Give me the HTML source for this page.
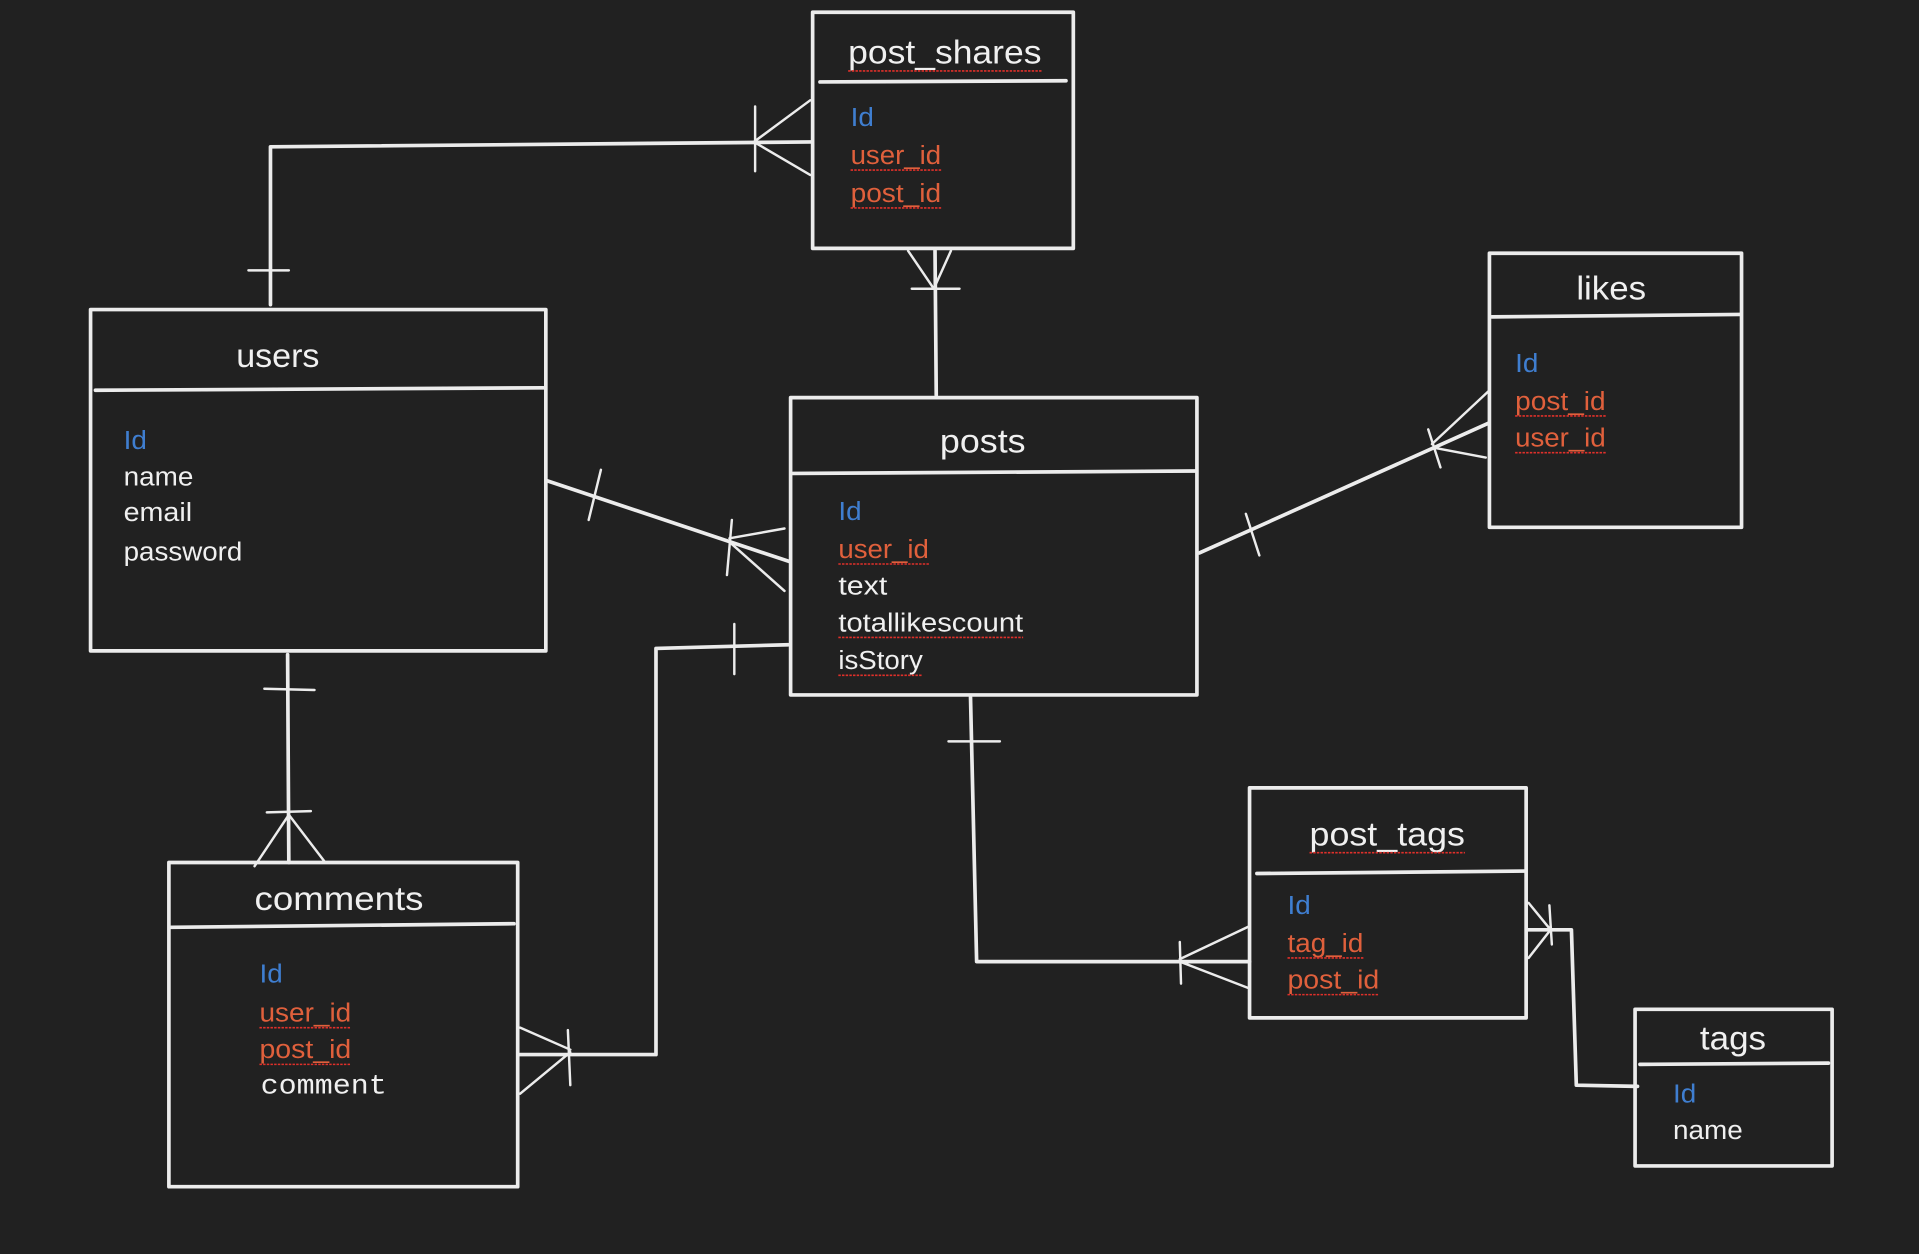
<!DOCTYPE html>
<html><head><meta charset="utf-8"><style>
html,body{margin:0;padding:0;background:#212121;}
svg{display:block;}
text{font-family:"Liberation Sans",sans-serif;}
.t{fill:#f0f0f0;font-size:27px;}
.f{fill:#f0f0f0;font-size:21px;}
.b{fill:#3f7ed0;font-size:21px;}
.r{fill:#e0603c;font-size:21px;}
.m{fill:#f0f0f0;font-size:23px;font-family:"Liberation Mono",monospace;}
.s{stroke:#ececec;stroke-width:3;fill:none;stroke-linecap:round;stroke-linejoin:round;}
.th{stroke:#ececec;stroke-width:2;fill:none;stroke-linecap:round;}
.u{stroke:#e0302a;stroke-width:1.3;fill:none;stroke-dasharray:2 1;}
</style></head><body>
<svg width="1919" height="1254" viewBox="0 0 1568 1025" preserveAspectRatio="none" xmlns="http://www.w3.org/2000/svg">
<rect width="1568" height="1025" fill="#212121"/>

<!-- post_shares -->
<rect class="s" x="664" y="10" width="213" height="193"/>
<line class="s" x1="670" y1="67" x2="871" y2="66"/>
<text class="t" x="693" y="52" textLength="158" lengthAdjust="spacingAndGlyphs">post_shares</text>
<line class="u" x1="693" y1="58" x2="851" y2="58"/>
<text class="b" x="695" y="103" textLength="19" lengthAdjust="spacingAndGlyphs">Id</text>
<text class="r" x="695" y="134" textLength="74" lengthAdjust="spacingAndGlyphs">user_id</text>
<line class="u" x1="695" y1="139" x2="769" y2="139"/>
<text class="r" x="695" y="165" textLength="74" lengthAdjust="spacingAndGlyphs">post_id</text>
<line class="u" x1="695" y1="170" x2="769" y2="170"/>

<!-- users -->
<rect class="s" x="74" y="253" width="372" height="279"/>
<line class="s" x1="78" y1="319" x2="444" y2="317"/>
<text class="t" x="193" y="300" textLength="68" lengthAdjust="spacingAndGlyphs">users</text>
<text class="b" x="101" y="367" textLength="19" lengthAdjust="spacingAndGlyphs">Id</text>
<text class="f" x="101" y="397" textLength="57" lengthAdjust="spacingAndGlyphs">name</text>
<text class="f" x="101" y="426" textLength="56" lengthAdjust="spacingAndGlyphs">email</text>
<text class="f" x="101" y="458" textLength="97" lengthAdjust="spacingAndGlyphs">password</text>

<!-- posts -->
<rect class="s" x="646" y="325" width="332" height="243"/>
<line class="s" x1="648" y1="387" x2="977" y2="385"/>
<text class="t" x="768" y="370" textLength="70" lengthAdjust="spacingAndGlyphs">posts</text>
<text class="b" x="685" y="425" textLength="19" lengthAdjust="spacingAndGlyphs">Id</text>
<text class="r" x="685" y="456" textLength="74" lengthAdjust="spacingAndGlyphs">user_id</text>
<line class="u" x1="685" y1="461" x2="759" y2="461"/>
<text class="f" x="685" y="486" textLength="40" lengthAdjust="spacingAndGlyphs">text</text>
<text class="f" x="685" y="516" textLength="151" lengthAdjust="spacingAndGlyphs">totallikescount</text>
<line class="u" x1="685" y1="521" x2="836" y2="521"/>
<text class="f" x="685" y="547" textLength="69" lengthAdjust="spacingAndGlyphs">isStory</text>
<line class="u" x1="685" y1="552" x2="754" y2="552"/>

<!-- likes -->
<rect class="s" x="1217" y="207" width="206" height="224"/>
<line class="s" x1="1219" y1="259" x2="1422" y2="257"/>
<text class="t" x="1288" y="245" textLength="57" lengthAdjust="spacingAndGlyphs">likes</text>
<text class="b" x="1238" y="304" textLength="19" lengthAdjust="spacingAndGlyphs">Id</text>
<text class="r" x="1238" y="335" textLength="74" lengthAdjust="spacingAndGlyphs">post_id</text>
<line class="u" x1="1238" y1="340" x2="1312" y2="340"/>
<text class="r" x="1238" y="365" textLength="74" lengthAdjust="spacingAndGlyphs">user_id</text>
<line class="u" x1="1238" y1="370" x2="1312" y2="370"/>

<!-- comments -->
<rect class="s" x="138" y="705" width="285" height="265"/>
<line class="s" x1="140" y1="758" x2="420" y2="755"/>
<text class="t" x="208" y="744" textLength="138" lengthAdjust="spacingAndGlyphs">comments</text>
<text class="b" x="212" y="803" textLength="19" lengthAdjust="spacingAndGlyphs">Id</text>
<text class="r" x="212" y="835" textLength="75" lengthAdjust="spacingAndGlyphs">user_id</text>
<line class="u" x1="212" y1="840" x2="287" y2="840"/>
<text class="r" x="212" y="865" textLength="75" lengthAdjust="spacingAndGlyphs">post_id</text>
<line class="u" x1="212" y1="870" x2="287" y2="870"/>
<text class="m" x="213" y="894" textLength="103" lengthAdjust="spacingAndGlyphs">comment</text>

<!-- post_tags -->
<rect class="s" x="1021" y="644" width="226" height="188"/>
<line class="s" x1="1027" y1="714" x2="1246" y2="712"/>
<text class="t" x="1070" y="691" textLength="127" lengthAdjust="spacingAndGlyphs">post_tags</text>
<line class="u" x1="1070" y1="697" x2="1197" y2="697"/>
<text class="b" x="1052" y="747" textLength="19" lengthAdjust="spacingAndGlyphs">Id</text>
<text class="r" x="1052" y="778" textLength="62" lengthAdjust="spacingAndGlyphs">tag_id</text>
<line class="u" x1="1052" y1="783" x2="1114" y2="783"/>
<text class="r" x="1052" y="808" textLength="75" lengthAdjust="spacingAndGlyphs">post_id</text>
<line class="u" x1="1052" y1="813" x2="1127" y2="813"/>

<!-- tags -->
<rect class="s" x="1336" y="825" width="161" height="128"/>
<line class="s" x1="1340" y1="870" x2="1494" y2="869"/>
<text class="t" x="1389" y="858" textLength="54" lengthAdjust="spacingAndGlyphs">tags</text>
<text class="b" x="1367" y="901" textLength="19" lengthAdjust="spacingAndGlyphs">Id</text>
<text class="f" x="1367" y="931" textLength="57" lengthAdjust="spacingAndGlyphs">name</text>

<!-- users - post_shares -->
<polyline class="s" points="221,249 221,120 663,116"/>
<line class="th" x1="203" y1="221" x2="236" y2="221"/>
<line class="th" x1="616" y1="116" x2="662" y2="82"/>
<line class="th" x1="616" y1="116" x2="662" y2="143"/>
<line class="th" x1="617" y1="87" x2="617" y2="140"/>

<!-- post_shares - posts -->
<line class="s" x1="764" y1="205" x2="765" y2="323"/>
<line class="th" x1="742" y1="205" x2="763" y2="236"/>
<line class="th" x1="777" y1="205" x2="763" y2="236"/>
<line class="th" x1="745" y1="236" x2="784" y2="236"/>

<!-- users - posts -->
<line class="s" x1="447" y1="393" x2="645" y2="459"/>
<line class="th" x1="491" y1="384" x2="481" y2="425"/>
<line class="th" x1="598" y1="425" x2="594" y2="470"/>
<line class="th" x1="596" y1="440" x2="641" y2="432"/>
<line class="th" x1="596" y1="443" x2="641" y2="483"/>

<!-- posts - likes -->
<line class="s" x1="980" y1="452" x2="1216" y2="346"/>
<line class="th" x1="1018" y1="420" x2="1029" y2="454"/>
<line class="th" x1="1170" y1="363" x2="1216" y2="320"/>
<line class="th" x1="1172" y1="366" x2="1214" y2="374"/>
<line class="th" x1="1167" y1="351" x2="1177" y2="382"/>

<!-- users - comments -->
<line class="s" x1="235" y1="535" x2="236" y2="705"/>
<line class="th" x1="216" y1="563" x2="257" y2="564"/>
<line class="th" x1="208" y1="708" x2="236" y2="666"/>
<line class="th" x1="265" y1="704" x2="236" y2="666"/>
<line class="th" x1="218" y1="664" x2="254" y2="663"/>

<!-- posts - comments -->
<polyline class="s" points="644,527 536,530 536,862 425,862"/>
<line class="th" x1="600" y1="510" x2="600" y2="551"/>
<line class="th" x1="425" y1="840" x2="466" y2="858"/>
<line class="th" x1="425" y1="894" x2="466" y2="860"/>
<line class="th" x1="464" y1="842" x2="466" y2="887"/>

<!-- posts - post_tags -->
<polyline class="s" points="793,570 798,786 1021,786"/>
<line class="th" x1="775" y1="606" x2="817" y2="606"/>
<line class="th" x1="964" y1="784" x2="1021" y2="757"/>
<line class="th" x1="964" y1="786" x2="1021" y2="808"/>
<line class="th" x1="964" y1="770" x2="965" y2="804"/>

<!-- post_tags - tags -->
<polyline class="s" points="1248,760 1284,760 1288,887 1338,888"/>
<line class="th" x1="1249" y1="738" x2="1267" y2="760"/>
<line class="th" x1="1249" y1="783" x2="1267" y2="760"/>
<line class="th" x1="1266" y1="740" x2="1268" y2="772"/>
</svg>
</body></html>
